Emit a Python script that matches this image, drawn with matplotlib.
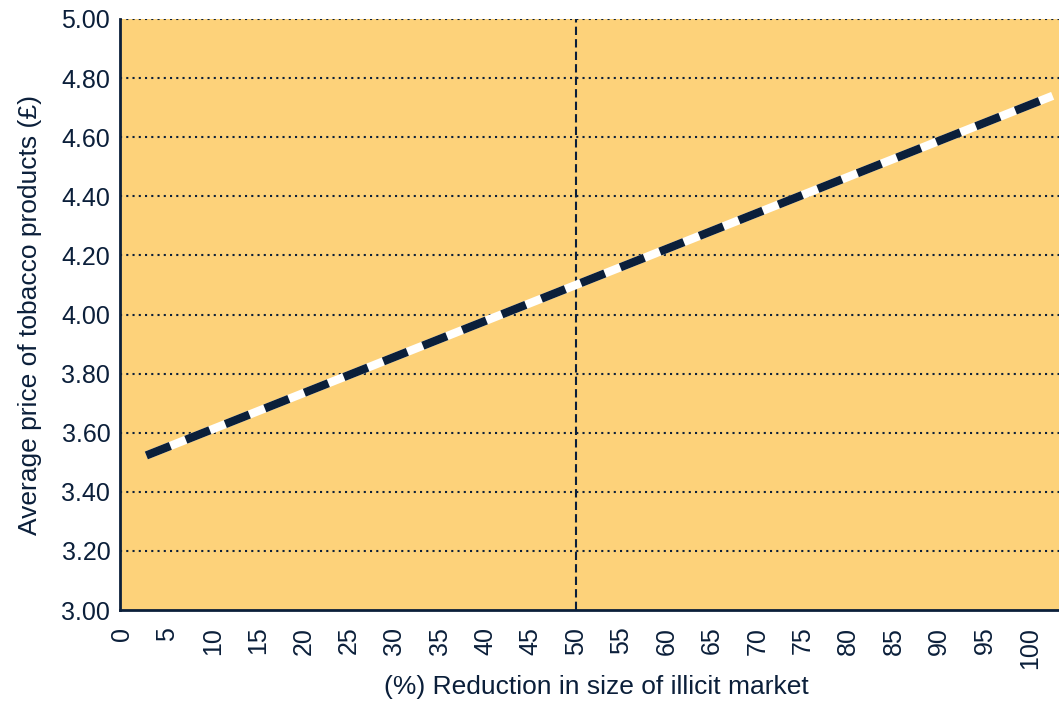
import numpy as np
import matplotlib.pyplot as plt

plt.rcParams['font.family'] = ['Liberation Sans', 'DejaVu Sans']

NAVY = '#0b1f3a'
BG = '#fdd27a'

# values
reduction_pct = [2.7, 25, 50, 75, 102.5]
avg_price = [3.523, 3.795, 4.10, 4.405, 4.740]
x_ticks = list(range(0, 101, 5))
y_ticks = [3.00, 3.20, 3.40, 3.60, 3.80, 4.00, 4.20, 4.40, 4.60, 4.80, 5.00]
marker_x = 50

fig = plt.figure(figsize=(10.59, 7.02), dpi=100)
ax = fig.add_axes([120 / 1059, 92 / 702, 939 / 1059, 591 / 702])
ax.set_facecolor(BG)

for y in y_ticks[1:]:
    ax.axhline(y, color=NAVY, lw=1.5, ls=(0, (1, 2)), zorder=1)
ax.axvline(marker_x, color=NAVY, lw=1.5, ls=(0, (4, 2)), zorder=2)

# white under-line then dark dashes on top
ax.plot(reduction_pct, avg_price, color='white', lw=6, solid_capstyle='butt', zorder=3)
ax.plot(reduction_pct, avg_price, color=NAVY, lw=6, ls=(0, (3.1, 2.0)),
        dash_capstyle='butt', zorder=4)

ax.set_xlim(-0.2, 103.2)
ax.set_ylim(3.0, 5.0)
ax.set_xticks(x_ticks)
ax.set_xticklabels([str(v) for v in x_ticks], rotation=90, fontsize=18, color=NAVY)
ax.set_yticks(y_ticks)
ax.set_yticklabels(['%.2f' % v for v in y_ticks], fontsize=18, color=NAVY)
ax.tick_params(axis='x', length=0, pad=12)
ax.tick_params(axis='y', length=0, pad=7)

for s in ['top', 'right']:
    ax.spines[s].set_visible(False)
for s in ['left', 'bottom']:
    ax.spines[s].set_color(NAVY)
    ax.spines[s].set_linewidth(2)

fig.text(596 / 1059, 1 - 687 / 702, '(%) Reduction in size of illicit market',
         fontsize=19, color=NAVY, ha='center', va='center')
fig.text(30 / 1059, 1 - 315 / 702, 'Average price of tobacco products (£)',
         fontsize=19, color=NAVY, ha='center', va='center', rotation=90)

fig.savefig('out.png', dpi=100)
